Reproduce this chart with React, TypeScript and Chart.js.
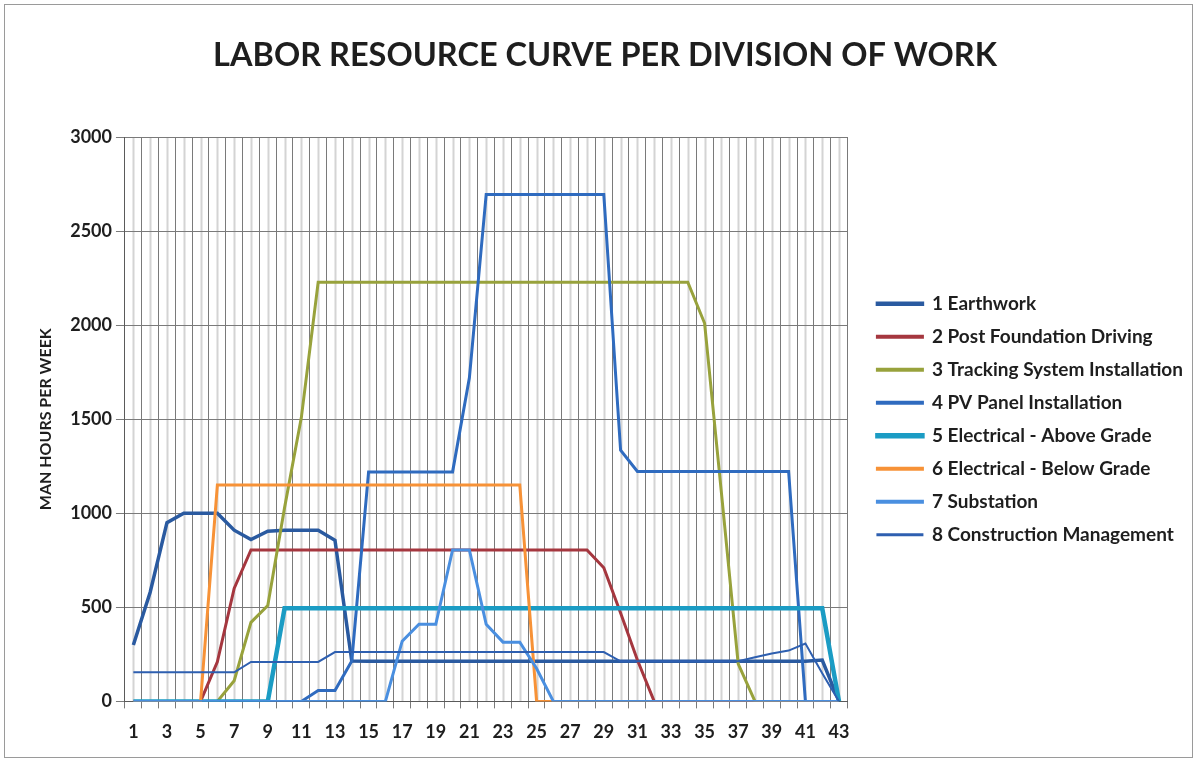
import React, { useEffect, useRef } from "react";
import { Chart, registerables } from "chart.js";

Chart.register(...registerables);

const weeks = [
  "1", "2", "3", "4", "5", "6", "7", "8", "9", "10",
  "11", "12", "13", "14", "15", "16", "17", "18", "19", "20",
  "21", "22", "23", "24", "25", "26", "27", "28", "29", "30",
  "31", "32", "33", "34", "35", "36", "37", "38", "39", "40",
  "41", "42", "43",
];

const earthwork = [
  300, 580, 950, 1000, 1000, 1000, 910, 860, 905, 910,
  910, 910, 856, 215, 213, 213, 213, 213, 213, 213,
  213, 213, 213, 213, 213, 213, 213, 213, 213, 213,
  213, 213, 213, 213, 213, 213, 213, 213, 213, 213,
  213, 220, 0,
];

const postFoundation = [
  0, 0, 0, 0, 0, 210, 600, 805, 805, 805,
  805, 805, 805, 805, 805, 805, 805, 805, 805, 805,
  805, 805, 805, 805, 805, 805, 805, 805, 710, 470,
  220, 0, 0, 0, 0, 0, 0, 0, 0, 0,
  0, 0, 0,
];

const tracking = [
  0, 0, 0, 0, 0, 0, 110, 420, 510, 1030,
  1510, 2228, 2228, 2228, 2228, 2228, 2228, 2228, 2228, 2228,
  2228, 2228, 2228, 2228, 2228, 2228, 2228, 2228, 2228, 2228,
  2228, 2228, 2228, 2228, 2010, 1110, 200, 0, 0, 0,
  0, 0, 0,
];

const pvPanel = [
  0, 0, 0, 0, 0, 0, 0, 0, 0, 0,
  0, 58, 58, 215, 1220, 1220, 1220, 1220, 1220, 1220,
  1720, 2695, 2695, 2695, 2695, 2695, 2695, 2695, 2695, 1335,
  1222, 1222, 1222, 1222, 1222, 1222, 1222, 1222, 1222, 1222,
  0, 0, 0,
];

const elecAbove = [
  0, 0, 0, 0, 0, 0, 0, 0, 0, 495,
  495, 495, 495, 495, 495, 495, 495, 495, 495, 495,
  495, 495, 495, 495, 495, 495, 495, 495, 495, 495,
  495, 495, 495, 495, 495, 495, 495, 495, 495, 495,
  495, 495, 0,
];

const elecBelow = [
  0, 0, 0, 0, 0, 1150, 1150, 1150, 1150, 1150,
  1150, 1150, 1150, 1150, 1150, 1150, 1150, 1150, 1150, 1150,
  1150, 1150, 1150, 1150, 0, 0, 0, 0, 0, 0,
  0, 0, 0, 0, 0, 0, 0, 0, 0, 0,
  0, 0, 0,
];

const substation = [
  0, 0, 0, 0, 0, 0, 0, 0, 0, 0,
  0, 0, 0, 0, 0, 0, 320, 410, 410, 805,
  805, 410, 315, 315, 175, 0, 0, 0, 0, 0,
  0, 0, 0, 0, 0, 0, 0, 0, 0, 0,
  0, 0, 0,
];

const constructionMgmt = [
  155, 155, 155, 155, 155, 155, 155, 210, 210, 210,
  210, 210, 262, 262, 262, 262, 262, 262, 262, 262,
  262, 262, 262, 262, 262, 262, 262, 262, 262, 213,
  213, 213, 213, 213, 213, 213, 213, 235, 255, 270,
  308, 150, 0,
];

const seriesNames = [
  "1 Earthwork",
  "2 Post Foundation Driving",
  "3 Tracking System Installation",
  "4 PV Panel Installation",
  "5 Electrical - Above Grade",
  "6 Electrical - Below Grade",
  "7 Substation",
  "8 Construction Management",
];

const seriesColors = [
  "#2a5aa0", "#a5373f", "#98a23c", "#2f6bbf",
  "#1b9cc4", "#f79237", "#4a8fe0", "#2e5fb0",
];

const seriesWidths = [3.5, 3, 3, 3, 4.5, 3, 3, 2];

const FONT = "Lato, 'Open Sans', sans-serif";
const TEXT = "#1e1e1e";

export default function App() {
  const ref = useRef<HTMLCanvasElement>(null);

  useEffect(() => {
    if (!ref.current) return;
    const allData = [
      earthwork, postFoundation, tracking, pvPanel,
      elecAbove, elecBelow, substation, constructionMgmt,
    ];

    const minorGrid = {
      id: "minorGrid",
      beforeDraw(chart: any) {
        const { ctx, chartArea } = chart;
        ctx.save();
        ctx.fillStyle = "#ffffff";
        ctx.fillRect(0, 0, chart.width, chart.height);
        const xs = chart.scales.x;
        ctx.strokeStyle = "#d4d4d4";
        ctx.lineWidth = 2;
        for (let i = 0; i < weeks.length; i++) {
          const px = Math.round(xs.getPixelForValue(i)) + 0.5;
          ctx.beginPath();
          ctx.moveTo(px, chartArea.top);
          ctx.lineTo(px, chartArea.bottom);
          ctx.stroke();
        }
        ctx.restore();
      },
    };

    const chart = new Chart(ref.current, {
      type: "line",
      data: {
        labels: weeks,
        datasets: allData.map((d, i) => ({
          label: seriesNames[i],
          data: d,
          borderColor: seriesColors[i],
          backgroundColor: seriesColors[i],
          borderWidth: seriesWidths[i],
          pointRadius: 0,
          tension: 0,
          fill: false,
          order: allData.length - i,
        })),
      },
      options: {
        responsive: false,
        animation: false,
        devicePixelRatio: 1,
        layout: { padding: { left: 17, right: 4, top: 0, bottom: 5 } },
        plugins: {
          title: {
            display: true,
            text: "LABOR RESOURCE CURVE PER DIVISION OF WORK",
            color: TEXT,
            font: { family: FONT, size: 32.5, weight: "bold" },
            padding: { top: 36, bottom: 62 },
          },
          legend: {
            position: "right",
            align: "center",
            fullSize: false,
            maxWidth: 500,
            labels: {
              boxWidth: 45,
              boxHeight: 1,
              padding: 14,
              color: TEXT,
              font: { family: FONT, size: 19, weight: "bold" },
              sort: (a: any, b: any) => a.datasetIndex - b.datasetIndex,
            },
          },
          tooltip: { enabled: false },
        },
        scales: {
          x: {
            type: "category",
            offset: true,
            grid: { offset: true, color: "#7a7a7a", lineWidth: 1, tickLength: 7 },
            border: { color: "#5a5a5a", width: 1 },
            ticks: {
              autoSkip: false,
              maxRotation: 0,
              minRotation: 0,
              padding: 13,
              color: TEXT,
              font: { family: FONT, size: 18, weight: "bold" },
              callback: (_v: any, i: number) => (i % 2 === 0 ? weeks[i] : ""),
            },
          },
          y: {
            min: 0,
            max: 3000,
            grid: { color: "#7a7a7a", lineWidth: 1, tickLength: 9 },
            border: { color: "#5a5a5a", width: 1 },
            ticks: {
              stepSize: 500,
              padding: 4,
              color: TEXT,
              font: { family: FONT, size: 18, weight: "bold" },
              callback: (v: any) => String(v),
            },
            title: {
              display: true,
              text: "MAN HOURS PER WEEK",
              color: TEXT,
              font: { family: FONT, size: 16, weight: "bold" },
              padding: { top: 19, bottom: 11 },
            },
          },
          y2: {
            position: "right",
            display: true,
            grid: { display: false },
            border: { display: false },
            ticks: { display: false },
            afterFit: (s: any) => {
              s.width = 16;
            },
          },
        },
      },
      plugins: [minorGrid],
    });
    return () => chart.destroy();
  }, []);

  return (
    <div style={{ position: "absolute", left: 0, top: 0, width: 1197, height: 761, background: "#fff" }}>
      <canvas ref={ref} width={1197} height={761} style={{ position: "absolute", left: 0, top: 0 }} />
      <div
        style={{
          position: "absolute",
          left: 4,
          top: 4,
          width: 1187,
          height: 752,
          border: "1px solid #9a9a9a",
          pointerEvents: "none",
        }}
      />
    </div>
  );
}
